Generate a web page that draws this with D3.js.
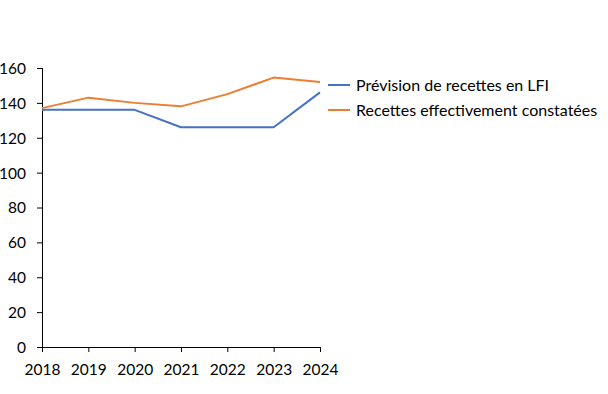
<!DOCTYPE html>
<html>
<head>
<meta charset="utf-8">
<script src="https://cdn.jsdelivr.net/npm/d3@7"></script>
<style>
  body { margin: 0; background: #fff; }
  text { font-family: Lato, "Open Sans", sans-serif; fill: #000; }
</style>
</head>
<body>
<svg id="chart" width="608" height="394"></svg>
<script>
var years = ["2018", "2019", "2020", "2021", "2022", "2023", "2024"];
var prevision = [136, 136, 136, 126, 126, 126, 146];
var constatees = [137, 143, 140, 138, 145, 154.5, 152];
var yTicks = [0, 20, 40, 60, 80, 100, 120, 140, 160];
var seriesNames = ["Prévision de recettes en LFI", "Recettes effectivement constatées"];
var colors = ["#4472c4", "#ed7d31"];

var svg = d3.select("#chart");
var plotLeft = 42, plotRight = 320, plotTop = 68, plotBottom = 347;

var x = d3.scalePoint().domain(years).range([plotLeft, plotRight]);
var y = d3.scaleLinear().domain([0, 160]).range([plotBottom, plotTop]);

// y axis
var yAxis = svg.append("g").attr("transform", "translate(" + plotLeft + ",0)")
    .call(d3.axisLeft(y).tickValues(yTicks).tickSize(5).tickPadding(11));
yAxis.select(".domain").attr("stroke", "#000").attr("d", "M0.5," + plotTop + "V" + plotBottom);
yAxis.selectAll(".tick line").attr("stroke", "#000");
yAxis.selectAll("text").style("font-size", "15.5px").attr("dy", "0.35em");

// x axis
var xAxis = svg.append("g").attr("transform", "translate(0," + plotBottom + ")")
    .call(d3.axisBottom(x).tickSize(5).tickPadding(12));
xAxis.select(".domain").attr("stroke", "#000").attr("d", "M" + plotLeft + ",0.5H" + plotRight);
xAxis.selectAll(".tick line").attr("stroke", "#000");
xAxis.selectAll("text").style("font-size", "15.5px");

var line = d3.line()
    .x(function (d, i) { return x(years[i]); })
    .y(function (d) { return y(d); });

[prevision, constatees].forEach(function (s, i) {
    svg.append("path")
        .datum(s)
        .attr("fill", "none")
        .attr("stroke", colors[i])
        .attr("stroke-width", 2)
        .attr("stroke-linejoin", "round")
        .attr("d", line);
});

// legend
var legend = svg.append("g");
seriesNames.forEach(function (name, i) {
    var ly = 85 + i * 25;
    legend.append("line")
        .attr("x1", 328).attr("x2", 350)
        .attr("y1", ly).attr("y2", ly)
        .attr("stroke", colors[i]).attr("stroke-width", 2);
    legend.append("text")
        .attr("x", 356).attr("y", ly)
        .attr("dy", "0.35em")
        .style("font-size", "16px")
        .text(name);
});
</script>
</body>
</html>
